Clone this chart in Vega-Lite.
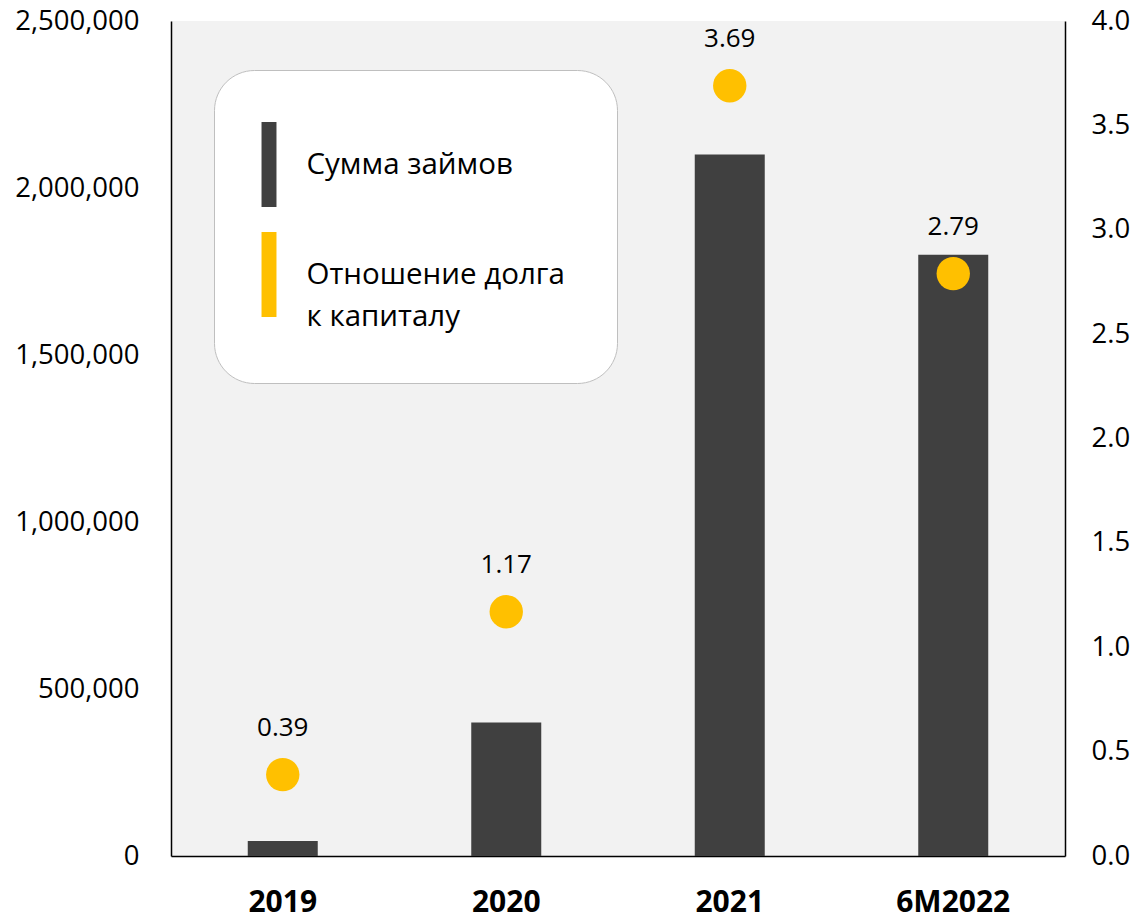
{
  "$schema": "https://vega.github.io/schema/vega-lite/v6.json",
  "width": 894,
  "height": 835,
  "autosize": {"type": "none"},
  "padding": {"left": 171, "top": 21, "right": 72, "bottom": 63},
  "background": "white",
  "config": {
    "view": {"fill": "#F2F2F2", "stroke": null},
    "font": "Open Sans",
    "style": {"guide-label": {"lineHeight": 42}}
  },
  "data": {
    "values": [
      {"period": "2019", "loans": 45000, "ratio": 0.39},
      {"period": "2020", "loans": 400000, "ratio": 1.17},
      {"period": "2021", "loans": 2100000, "ratio": 3.69},
      {"period": "6M2022", "loans": 1800000, "ratio": 2.79}
    ]
  },
  "encoding": {
    "x": {
      "field": "period",
      "type": "nominal",
      "sort": null,
      "scale": {"paddingInner": 0, "paddingOuter": 0},
      "axis": {
        "title": null,
        "labelAngle": 0,
        "labelFont": "Open Sans",
        "labelFontSize": 30,
        "labelFontWeight": "bold",
        "labelColor": "#000000",
        "labelPadding": 31,
        "ticks": false,
        "domainColor": "#000000",
        "domainWidth": 1.5,
        "grid": false
      }
    }
  },
  "layer": [
    {
      "mark": {"type": "bar", "width": 70},
      "encoding": {
        "y": {
          "field": "loans",
          "type": "quantitative",
          "scale": {"domain": [0, 2500000], "nice": false},
          "axis": {
            "title": null,
            "orient": "left",
            "values": [0, 500000, 1000000, 1500000, 2000000, 2500000],
            "format": ",d",
            "labelFontSize": 27.5,
            "labelColor": "#000000",
            "labelPadding": 32,
            "ticks": false,
            "grid": false,
            "domainColor": "#000000",
            "domainWidth": 1.5
          }
        },
        "color": {
          "datum": "Сумма займов",
          "type": "nominal",
          "scale": {
            "domain": ["Сумма займов", "Отношение долга к капиталу"],
            "range": ["#404040", "#FFC000"]
          },
          "legend": {
            "title": null,
            "orient": "none",
            "legendX": 43,
            "legendY": 49,
            "fillColor": "#FFFFFF",
            "strokeColor": "#BFBFBF",
            "cornerRadius": 40,
            "padding": 52,
            "symbolType": "M-0.176,-1H0.176V1H-0.176Z",
            "symbolSize": 7225,
            "symbolStrokeWidth": 0,
            "symbolOpacity": 1,
            "symbolOffset": -39.5,
            "labelOffset": -5,
            "labelFont": "Open Sans",
            "labelFontSize": 29.5,
            "labelColor": "#000000",
            "labelLimit": 500,
            "rowPadding": 25,
            "labelExpr": "datum.label == 'Отношение долга к капиталу' ? ['Отношение долга', 'к капиталу'] : datum.label"
          }
        }
      }
    },
    {
      "mark": {"type": "point", "filled": true, "size": 1115, "opacity": 1, "shape": "circle"},
      "encoding": {
        "y": {
          "field": "ratio",
          "type": "quantitative",
          "scale": {"domain": [0, 4], "nice": false},
          "axis": {
            "title": null,
            "orient": "right",
            "values": [0, 0.5, 1, 1.5, 2, 2.5, 3, 3.5, 4],
            "format": ".1f",
            "labelFontSize": 27.5,
            "labelColor": "#000000",
            "labelPadding": 26,
            "ticks": false,
            "grid": false,
            "domainColor": "#000000",
            "domainWidth": 1.5
          }
        },
        "color": {"datum": "Отношение долга к капиталу", "type": "nominal"}
      }
    },
    {
      "mark": {"type": "text", "dy": -47, "fontSize": 26, "font": "Open Sans", "color": "#000000", "baseline": "middle"},
      "encoding": {
        "y": {"field": "ratio", "type": "quantitative", "scale": {"domain": [0, 4], "nice": false}, "axis": null},
        "text": {"field": "ratio", "type": "quantitative", "format": ".2f"}
      }
    }
  ],
  "resolve": {"scale": {"y": "independent"}}
}
